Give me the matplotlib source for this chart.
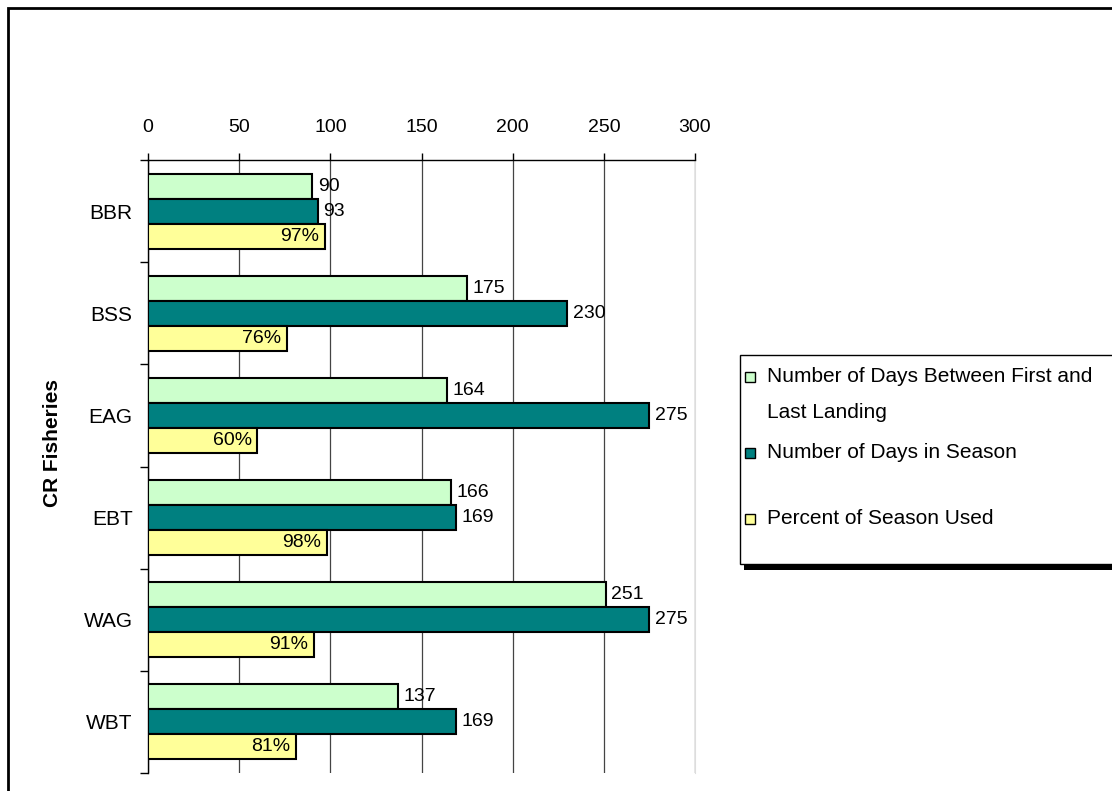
import numpy as np
import matplotlib.pyplot as plt
from matplotlib.patches import Rectangle

plt.rcParams['font.family'] = ['Liberation Sans', 'DejaVu Sans']

# data
fisheries = ["BBR", "BSS", "EAG", "EBT", "WAG", "WBT"]
days_between = [90, 175, 164, 166, 251, 137]
days_season = [93, 230, 275, 169, 275, 169]
pct_used = [97, 76, 60, 98, 91, 81]
series_names = ["Number of Days Between First and\nLast Landing",
                "Number of Days in Season",
                "Percent of Season Used"]
colors = ["#CCFFCC", "#008080", "#FFFF99"]
xticks = [0, 50, 100, 150, 200, 250, 300]

W, H = 1112, 791
fig = plt.figure(figsize=(W / 100, H / 100), dpi=100)


def fx(px):
    return px / W


def fy(py):
    return 1 - py / H


ax = fig.add_axes([fx(148), fy(773), fx(695) - fx(148), fy(160) - fy(773)])

n = len(fisheries)
y = np.arange(n)
bh = 0.245
offsets = [-bh, 0, bh]
vals = [days_between, days_season, pct_used]

for k in range(3):
    bars = ax.barh(y + offsets[k], vals[k], height=bh, color=colors[k],
                   edgecolor="black", linewidth=1.5, zorder=3)
    for b, v in zip(bars, vals[k]):
        cy = b.get_y() + b.get_height() / 2
        if k < 2:
            ax.annotate(str(v), (v, cy), xytext=(4, 0), textcoords="offset points",
                        ha="left", va="center", fontsize=14, zorder=4)
        else:
            ax.annotate(f"{v}%", (v, cy), xytext=(-4, 0), textcoords="offset points",
                        ha="right", va="center", fontsize=14, zorder=4)

ax.set_xlim(0, 300)
ax.set_ylim(n - 0.5, -0.5)
ax.xaxis.tick_top()
ax.set_xticks(xticks)
ax.tick_params(axis="x", direction="out", length=5, width=1, pad=12, labelsize=14)
ax.grid(axis="x", color="#444444", linewidth=0.9, zorder=0)
ax.set_yticks(y)
ax.set_yticklabels(fisheries, fontsize=15)
ax.set_yticks(np.arange(n + 1) - 0.5, minor=True)
ax.tick_params(axis="y", which="major", length=0, pad=11)
ax.tick_params(axis="y", which="minor", length=6, width=1, direction="out")
ax.spines["right"].set_color("#dddddd")
ax.spines["right"].set_linewidth(0.8)
ax.spines["bottom"].set_visible(False)
ax.spines["top"].set_linewidth(1)
ax.spines["left"].set_linewidth(1)
ax.set_ylabel("CR Fisheries", fontsize=15, fontweight="bold")
ax.yaxis.set_label_coords((62 - 148) / 547, (773 - 443) / 613)

# outer border
fig.patches.append(Rectangle((fx(8), fy(800)), 1.2, fy(8) - fy(800), transform=fig.transFigure,
                             fill=False, edgecolor="black", linewidth=2))

# legend (Excel style, with shadow)
fig.patches.append(Rectangle((fx(744), fy(570)), 1.0, fy(360) - fy(570), transform=fig.transFigure,
                             facecolor="black", edgecolor="none", zorder=1))
fig.patches.append(Rectangle((fx(740), fy(564)), 1.0, fy(355) - fy(564), transform=fig.transFigure,
                             facecolor="white", edgecolor="black", linewidth=1, zorder=2))
entry_y = [377, 453, 519]
line_gap = 35
for name, c, ey in zip(series_names, colors, entry_y):
    fig.patches.append(Rectangle((fx(745), fy(ey + 5)), fx(10), fy(ey - 5) - fy(ey + 5),
                                 transform=fig.transFigure, facecolor=c, edgecolor="black",
                                 linewidth=1, zorder=3))
    for i, line in enumerate(name.split("\n")):
        fig.text(fx(767), fy(ey + i * line_gap), line, fontsize=15, va="center", ha="left",
                 zorder=4)

fig.savefig("out.png", dpi=100)
